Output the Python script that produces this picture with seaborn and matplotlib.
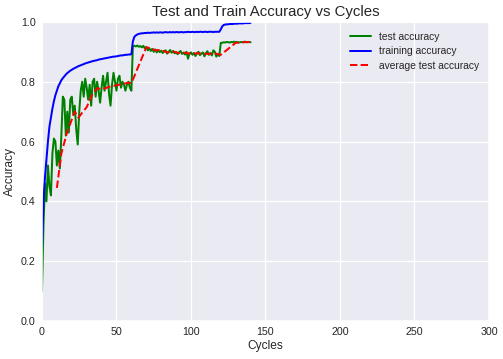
import numpy as np
import pandas as pd
import matplotlib.pyplot as plt
import seaborn as sns

sns.set_theme(style="darkgrid", context="notebook")
plt.rcParams["font.family"] = ["Liberation Sans", "DejaVu Sans"]

# ---------------------------------------------------------
# data (one sample per cycle)
# ---------------------------------------------------------
cycles = list(range(141))

test_acc = [
    0.10, 0.32, 0.46, 0.40, 0.52, 0.45, 0.42, 0.56, 0.61, 0.60,
    0.52, 0.57, 0.51, 0.62, 0.75, 0.74, 0.62, 0.70, 0.63, 0.74,
    0.75, 0.69, 0.72, 0.64, 0.59, 0.70, 0.77, 0.80, 0.75, 0.81,
    0.78, 0.74, 0.79, 0.72, 0.80, 0.81, 0.75, 0.80, 0.77, 0.73,
    0.78, 0.82, 0.77, 0.80, 0.83, 0.76, 0.72, 0.79, 0.83, 0.80,
    0.77, 0.81, 0.82, 0.78, 0.80, 0.79, 0.77, 0.79, 0.80, 0.78,
    0.77, 0.920, 0.920, 0.918, 0.921, 0.917, 0.919, 0.915, 0.920, 0.912,
    0.916, 0.905, 0.912, 0.903, 0.910, 0.900, 0.908, 0.898, 0.906, 0.899,
    0.904, 0.896, 0.902, 0.905, 0.894, 0.900, 0.906, 0.897, 0.903, 0.895,
    0.899, 0.892, 0.898, 0.903, 0.893, 0.897, 0.891, 0.900, 0.877, 0.895,
    0.898, 0.890, 0.896, 0.886, 0.895, 0.900, 0.889, 0.894, 0.898, 0.885,
    0.895, 0.902, 0.890, 0.896, 0.888, 0.905, 0.900, 0.884, 0.892, 0.886,
    0.930, 0.930, 0.932, 0.931, 0.933, 0.932, 0.931, 0.933, 0.932, 0.934,
    0.932, 0.933, 0.931, 0.932, 0.933, 0.932, 0.934, 0.933, 0.932, 0.933,
    0.932,
]

train_acc = [
    0.25, 0.40, 0.48, 0.54, 0.60, 0.65, 0.68, 0.71, 0.735, 0.755,
    0.770, 0.785, 0.795, 0.805, 0.812, 0.818, 0.824, 0.829, 0.833, 0.837,
    0.840, 0.843, 0.846, 0.848, 0.851, 0.853, 0.855, 0.857, 0.859, 0.861,
    0.863, 0.864, 0.866, 0.867, 0.869, 0.870, 0.871, 0.872, 0.874, 0.875,
    0.876, 0.877, 0.878, 0.879, 0.880, 0.881, 0.882, 0.883, 0.884, 0.884,
    0.885, 0.886, 0.887, 0.888, 0.888, 0.889, 0.890, 0.890, 0.891, 0.891,
    0.892, 0.935, 0.950, 0.955, 0.958, 0.960, 0.961, 0.962, 0.962, 0.963,
    0.963, 0.964, 0.963, 0.964, 0.964, 0.965, 0.964, 0.965, 0.964, 0.965,
    0.965, 0.964, 0.965, 0.966, 0.965, 0.965, 0.966, 0.965, 0.966, 0.965,
    0.966, 0.966, 0.965, 0.966, 0.966, 0.965, 0.966, 0.966, 0.967, 0.966,
    0.966, 0.967, 0.966, 0.966, 0.967, 0.966, 0.967, 0.967, 0.966, 0.967,
    0.967, 0.966, 0.967, 0.967, 0.967, 0.966, 0.967, 0.967, 0.967, 0.967,
    0.975, 0.985, 0.990, 0.991, 0.992, 0.992, 0.993, 0.993, 0.993, 0.994,
    0.994, 0.994, 0.995, 0.995, 0.995, 0.995, 0.996, 0.996, 0.996, 0.996,
    0.997,
]

avg_cycles = [10, 13, 16.5, 19, 22, 24.5, 27.5, 30, 34, 37, 41, 45, 50, 54, 58, 60,
              70, 73, 76, 80, 84, 88, 92, 96, 100, 104, 108, 112, 116, 120,
              130, 135, 140]
avg_test_acc = [0.445, 0.56, 0.625, 0.66, 0.70, 0.68, 0.70, 0.715, 0.76, 0.778,
                0.775, 0.783, 0.788, 0.792, 0.797, 0.795,
                0.915, 0.912, 0.905, 0.906, 0.898, 0.901, 0.896, 0.897, 0.893,
                0.895, 0.894, 0.893, 0.895, 0.890,
                0.930, 0.932, 0.933]

fig = plt.figure(figsize=(5.6, 3.99), dpi=90)
ax = fig.add_axes([0.0833, 0.1058, 0.8869, 0.8329])

sns.lineplot(x=cycles, y=test_acc, color="green", linewidth=1.6,
             label="test accuracy", ax=ax)
sns.lineplot(x=cycles, y=train_acc, color="blue", linewidth=1.6,
             label="training accuracy", ax=ax)
sns.lineplot(x=avg_cycles, y=avg_test_acc, color="red", linewidth=1.6,
             linestyle="--", label="average test accuracy", ax=ax)

ax.set_xlim(0, 300)
ax.set_ylim(0, 1.0)
ax.set_title("Test and Train Accuracy vs Cycles", fontsize=12, color=".15", pad=5)
ax.set_xlabel("Cycles", fontsize=9.5, color=".15", labelpad=2)
ax.set_ylabel("Accuracy", fontsize=9.5, color=".15", labelpad=4)
ax.tick_params(labelsize=8.5, colors=".15", length=0, pad=5)
ax.legend(loc="upper right", frameon=False, fontsize=8.2,
          handlelength=2.0, borderaxespad=0.55, labelspacing=0.45)

fig.savefig("out.png", dpi=90)
